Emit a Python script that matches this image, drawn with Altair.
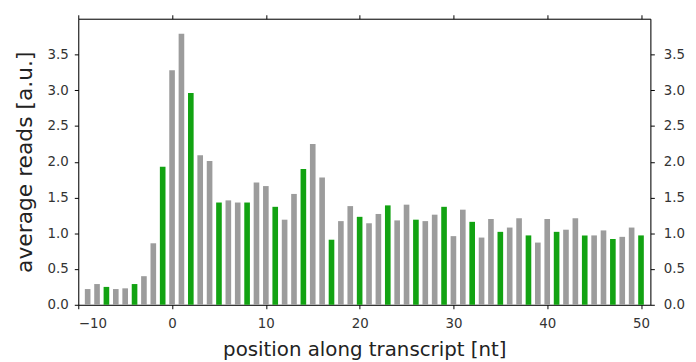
import altair as alt
import pandas as pd

positions = list(range(-9, 51))
reads = [0.22, 0.29, 0.25, 0.22, 0.23, 0.29, 0.40, 0.86, 1.93, 3.28,
         3.79, 2.96, 2.09, 2.01, 1.43, 1.46, 1.43, 1.43, 1.71, 1.66,
         1.37, 1.19, 1.55, 1.90, 2.25, 1.78, 0.91, 1.17, 1.38, 1.23,
         1.14, 1.27, 1.39, 1.18, 1.40, 1.19, 1.17, 1.26, 1.37, 0.96,
         1.33, 1.16, 0.94, 1.20, 1.02, 1.08, 1.21, 0.97, 0.87, 1.20,
         1.02, 1.05, 1.21, 0.97, 0.97, 1.04, 0.92, 0.95, 1.08, 0.97]
frame = ["in" if (p + 1) % 3 == 0 else "out" for p in positions]

df = pd.DataFrame({"pos": positions, "reads": reads, "frame": frame})

font = "DejaVu Sans"
x_scale = alt.Scale(domain=[-10, 51], nice=False, zero=False)
y_scale = alt.Scale(domain=[0, 4.0], nice=False)
xticks = list(range(-10, 51, 10))
yticks = [0, 0.5, 1, 1.5, 2, 2.5, 3, 3.5]

base = alt.Chart(df).transform_calculate(
    x0="datum.pos - 0.3", x1="datum.pos + 0.3"
)

common_axis = dict(domainColor="black", tickColor="black", tickSize=4,
                   labelFont=font, labelFontSize=13.5, labelColor="#333333",
                   titleFont=font, titleColor="#222222",
                   titleFontWeight="normal", grid=False)

bars = base.mark_bar().encode(
    x=alt.X("x0:Q", scale=x_scale,
            axis=alt.Axis(title="position along transcript [nt]", values=xticks,
                          orient="bottom", labelPadding=8, titlePadding=10,
                          titleFontSize=20, **common_axis)),
    x2="x1:Q",
    y=alt.Y("reads:Q", scale=y_scale,
            axis=alt.Axis(title="average reads [a.u.]", values=yticks,
                          format=".1f", orient="left", labelPadding=6, titlePadding=11,
                          titleFontSize=22, **common_axis)),
    y2=alt.datum(0),
    color=alt.Color("frame:N", scale=alt.Scale(domain=["in", "out"], range=["#12a312", "#9c9c9c"]),
                    legend=None),
)

mirror = base.mark_bar(opacity=0).encode(
    x=alt.X("x0:Q", scale=x_scale,
            axis=alt.Axis(title=None, values=xticks, labels=False,
                          orient="top", **common_axis)),
    x2="x1:Q",
    y=alt.Y("reads:Q", scale=y_scale,
            axis=alt.Axis(title=None, values=yticks,
                          format=".1f", orient="right", labelPadding=9, **common_axis)),
    y2=alt.datum(0),
)

chart = alt.layer(bars, mirror).resolve_axis(x="independent", y="independent").properties(
    width=578, height=289,
    autosize=alt.AutoSizeParams(type="none"),
    padding={"left": 71, "top": 9, "right": 38, "bottom": 60},
).configure_view(stroke="black", strokeWidth=1).configure(background="white")

chart.save("out.html", embed_options={"renderer": "svg", "actions": False})
